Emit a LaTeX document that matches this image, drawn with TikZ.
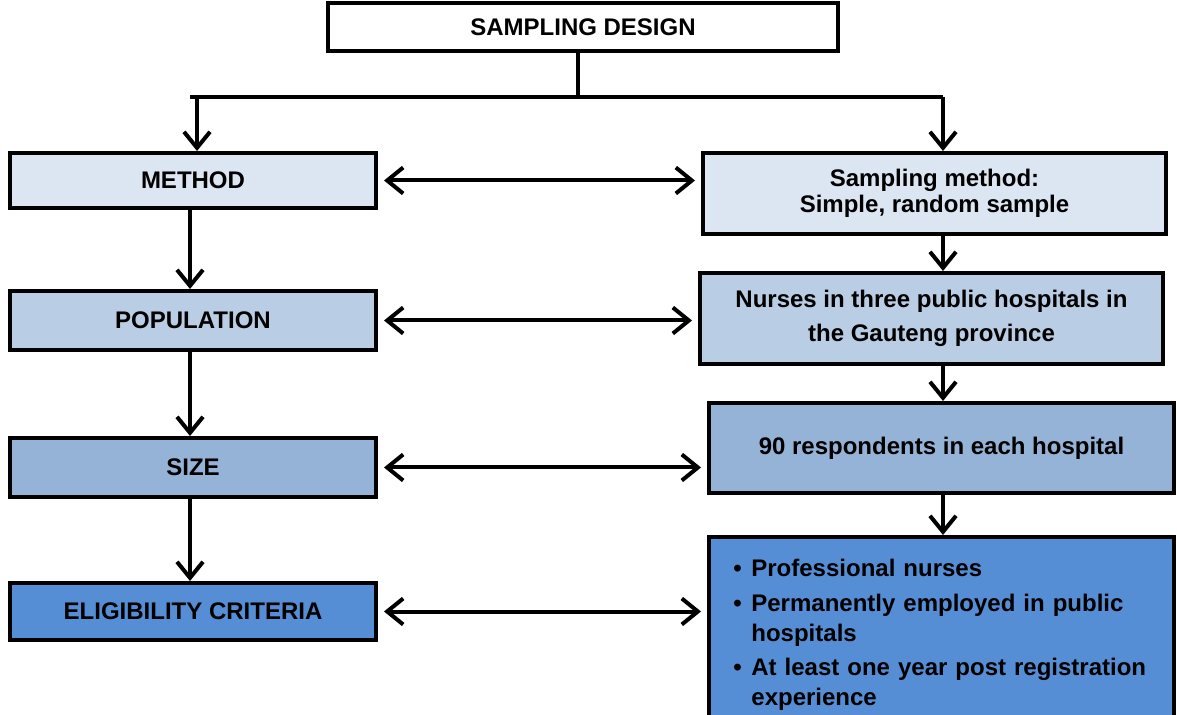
\documentclass[tikz,border=0pt]{standalone}
\usepackage{fontspec}
\setmainfont{Liberation Sans}
\usepackage{xcolor}
\usetikzlibrary{arrows.meta,positioning}

\definecolor{blueA}{HTML}{DCE6F2}
\definecolor{blueB}{HTML}{B9CDE5}
\definecolor{blueC}{HTML}{95B3D7}
\definecolor{blueD}{HTML}{558ED5}

\newcommand{\critem}[1]{\par\hangindent=9pt\hangafter=1\noindent\makebox[9pt][l]{\textbullet}#1}

\begin{document}
\begin{tikzpicture}[x=0.5pt, y=-0.5pt,
    box/.style={draw, line width=2pt, rectangle, align=center, inner sep=0pt,
        font=\fontsize{12}{14.4}\selectfont\bfseries},
    arr/.style={line width=2pt, -{Straight Barb[length=8pt, width=13pt]}},
    darr/.style={line width=2pt, {Straight Barb[length=8pt, width=13pt]}-{Straight Barb[length=8pt, width=13pt]},
        shorten <=3pt, shorten >=3pt}]
    \useasboundingbox (0,0) rectangle (1177,715);
    \clip (0,0) rectangle (1177,715);

    \node[box, fill=white, minimum width=255pt, minimum height=24pt] (design) at (583,27) {SAMPLING DESIGN};

    \node[box, fill=blueA, minimum width=183pt, minimum height=27.5pt] (method) at (193,180.5) {METHOD};
    \node[box, fill=blueB, minimum width=183pt, minimum height=29.5pt] (population) at (193,320.5) {POPULATION};
    \node[box, fill=blueC, minimum width=183pt, minimum height=29.5pt] (size) at (193,467.5) {SIZE};
    \node[box, fill=blueD, minimum width=183pt, minimum height=28.5pt] (elig) at (193,611.5) {ELIGIBILITY CRITERIA};

    \node[box, fill=blueA, minimum width=231.5pt, minimum height=40.5pt] (sampling) at (934.5,193.5) {Sampling method:\\[-1.4pt]Simple, random sample};
    \node[box, fill=blueB, minimum width=231.5pt, minimum height=45.5pt] (nurses) at (931.5,318.5) {Nurses in three public hospitals in\\[2.6pt]the Gauteng province};
    \node[box, fill=blueC, minimum width=232.5pt, minimum height=45pt] (respond) at (941.5,448) {90 respondents in each hospital};
    \node[box, fill=blueD, minimum width=232.5pt, minimum height=95pt] (criteria) at (941.5,632) {};
    \node[anchor=north west, inner sep=0pt, text width=230pt,
        font=\fontsize{12}{15}\selectfont\bfseries] (crittext) at (733,542)
        {\raggedright\setlength{\parskip}{2.25pt}%
        \critem{Professional nurses}%
        \critem{Permanently employed in public\newline hospitals}%
        \critem{At least one year post registration\newline experience}\par};

    \coordinate (split) at (578,97);
    \coordinate (lft) at (190,97);
    \coordinate (lftdown) at (197,97);
    \coordinate (rgt) at (943,97);

    \draw[line width=2pt] (design.south -| split) -- (split);
    \draw[line width=2pt] (lft) -- (rgt);
    \draw[arr] (lftdown) -- (lftdown |- method.north);
    \draw[arr] (rgt) -- (rgt |- sampling.north);

    \draw[arr] (method.south -| lft) -- (population.north -| lft);
    \draw[arr] (population.south -| lft) -- (size.north -| lft);
    \draw[arr] (size.south -| lft) -- (elig.north -| lft);

    \draw[arr] (sampling.south -| rgt) -- (nurses.north -| rgt);
    \draw[arr] (nurses.south -| rgt) -- (respond.north -| rgt);
    \draw[arr] (respond.south -| rgt) -- (criteria.north -| rgt);

    \draw[darr] (method.east) -- (method.east -| sampling.west);
    \draw[darr] (population.east) -- (population.east -| nurses.west);
    \draw[darr] (size.east) -- (size.east -| respond.west);
    \draw[darr] (elig.east) -- (elig.east -| criteria.west);
\end{tikzpicture}
\end{document}
